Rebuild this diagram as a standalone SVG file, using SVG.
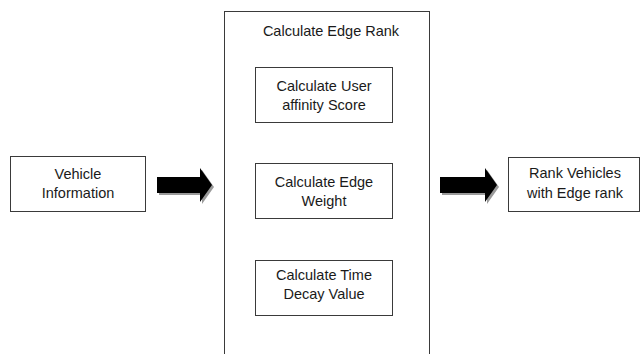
<svg xmlns="http://www.w3.org/2000/svg" width="640" height="354" viewBox="0 0 640 354">
<style>
.box{fill:#fff;stroke:#3a3a3a;stroke-width:1}
.t{font-family:"Liberation Sans",Arial,sans-serif;font-size:14.5px;fill:#1a1a1a;text-anchor:middle}
.arrow{fill:#000}
.shadow{fill:#9a9a9a}
</style>
<rect width="640" height="354" fill="#fff"/>
<g id="vehicle-information">
<rect class="box" x="10.5" y="156.5" width="135" height="55"/>
<text class="t" x="78" y="179">Vehicle</text>
<text class="t" x="78" y="198">Information</text>
</g>
<g id="calculate-edge-rank">
<rect class="box" x="224.5" y="11.5" width="205" height="350"/>
<text class="t" x="331" y="36">Calculate Edge Rank</text>
</g>
<g id="user-affinity">
<rect class="box" x="255.5" y="67.5" width="137" height="55"/>
<text class="t" x="324" y="91">Calculate User</text>
<text class="t" x="324" y="110">affinity Score</text>
</g>
<g id="edge-weight">
<rect class="box" x="255.5" y="163.5" width="137" height="55"/>
<text class="t" x="324" y="187">Calculate Edge</text>
<text class="t" x="324" y="206">Weight</text>
</g>
<g id="time-decay">
<rect class="box" x="255.5" y="260.5" width="137" height="55"/>
<text class="t" x="324" y="280">Calculate Time</text>
<text class="t" x="324" y="299">Decay Value</text>
</g>
<g id="rank-vehicles">
<rect class="box" x="508.5" y="157.5" width="131" height="54"/>
<text class="t" x="575" y="178">Rank Vehicles</text>
<text class="t" x="575" y="198">with Edge rank</text>
</g>
<g id="connectors">
<polygon class="shadow" points="159,179 202,179 202,170 214,187 202,204 202,195 159,195"/>
<polygon class="arrow" points="157,177 200,177 200,168 212,185 200,202 200,193 157,193"/>
<polygon class="shadow" points="442,179 487,179 487,170 499,187 487,204 487,195 442,195"/>
<polygon class="arrow" points="440,177 485,177 485,168 497,185 485,202 485,193 440,193"/>
</g>
</svg>
